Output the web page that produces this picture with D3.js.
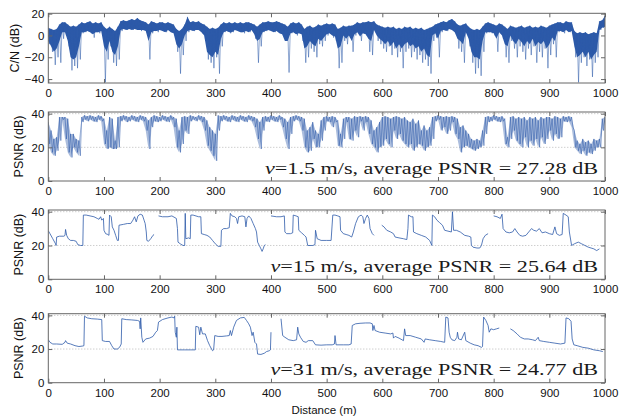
<!DOCTYPE html>
<html><head><meta charset="utf-8">
<script src="https://cdn.jsdelivr.net/npm/d3@7"></script>
<style>body{margin:0;background:#fff}</style>
</head><body>
<svg id="chart" width="621" height="416"></svg>
<script>
// ---------- data ----------
const xTicks = [0,100,200,300,400,500,600,700,800,900,1000];
const cnTicks = [20,0,-20,-40];
const psnrTicks = [0,20,40];
const gridValues = [20,40];
const sampleStep = 5; // metres between envelope samples

// C/N (dB): upper edge, lower edge of the dense band, and deepest dips, read every 5 m
const cnHigh = [7,6,5,6,10,12,12,10,8,9,8,10,12,11,12,13,11,12,11,12,
  8,6,8,6,4,8,13,14,13,14,15,14,16,14,13,12,10,13,12,11,
  12,12,11,12,11,10,6,4,6,10,17,12,13,12,13,11,10,8,6,7,
  6,7,10,12,11,12,11,12,11,12,11,12,12,11,10,8,10,12,12,13,
  12,12,13,12,11,10,8,11,12,11,12,10,6,8,9,7,8,10,9,10,
  11,10,11,10,6,7,9,8,9,9,10,12,11,12,12,13,12,13,10,9,
  8,7,8,7,8,6,7,6,8,7,8,6,7,6,7,5,6,7,8,10,
  11,12,13,12,14,15,13,10,9,10,11,8,6,5,6,5,8,11,12,11,
  10,9,11,10,8,6,9,8,7,8,9,7,8,9,7,8,7,9,8,7,
  9,10,11,12,12,11,13,12,12,4,2,3,2,3,1,2,3,2,13,14,18];
const cnBand = [-5,-10,-15,-12,-5,3,3,-5,-20,-22,-20,-10,3,3,4,3,1,3,3,4,
  -10,-15,-5,-15,-18,-10,5,6,5,6,5,6,5,5,5,4,-5,3,4,4,
  5,4,3,5,3,2,-8,-12,-8,0,4,5,4,5,5,3,0,-15,-18,-20,
  -15,-18,-3,3,4,3,3,5,4,3,3,4,3,5,1,-5,-3,3,4,5,
  4,3,4,2,1,-5,-5,2,3,1,2,1,-12,-10,-5,-8,-10,-3,-5,-2,
  1,2,0,-1,-12,-10,0,-3,0,-5,1,3,-1,2,1,-3,-5,5,0,-3,
  -5,-8,-5,-10,-6,-12,-8,-12,-8,-6,-10,-8,-12,-10,-15,-12,-18,-20,0,2,
  -3,4,5,4,6,5,3,-3,-5,-8,3,-3,-15,-20,-20,-22,-5,3,3,3,
  2,-3,3,0,-8,-10,0,-5,-8,-3,-6,-10,-5,-8,-3,-10,-6,-8,-5,-12,
  -8,-2,-5,4,4,3,5,3,4,-10,-20,-18,-15,-20,-15,-22,-18,-15,5,7,8];
const cnLow = [-8,-15,-27,-20,-25,-3,0,-10,-32,-28,-30,-22,2,3,4,2,-2,3,2,4,
  -43,-22,-10,-25,-28,-22,4,6,5,6,5,6,5,4,5,3,-22,2,4,3,
  5,4,3,5,3,2,-15,-35,-18,-5,3,5,4,5,6,2,-5,-22,-25,-30,
  -20,-35,-10,3,4,2,3,5,4,3,2,4,3,5,-3,-25,-10,3,4,5,
  4,3,4,2,0,-5,-34,2,3,0,2,-5,-25,-20,-12,-15,-20,-8,-10,-5,
  0,2,-2,-5,-30,-25,-5,-8,-2,-15,0,3,-5,2,0,-15,-18,5,-5,-8,
  -12,-15,-10,-18,-12,-20,-15,-30,-15,-12,-20,-15,-22,-18,-25,-22,-28,-35,-5,-2,
  -20,3,5,4,6,5,3,-12,-15,-25,2,-10,-25,-35,-30,-37,-15,2,3,2,
  0,-15,2,-3,-20,-25,-5,-12,-20,-10,-15,-22,-12,-18,-10,-25,-15,-20,-12,-30,
  -18,-8,-20,3,4,2,5,3,4,-20,-43,-25,-20,-28,-22,-38,-25,-20,5,7,8];

// PSNR (dB) at v = 1.5 m/s: upper / lower envelope every 5 m
const psnrSlowHigh = [35,30,25,26,38,38,38,37,28,28,25,24,38,39,38.5,39,38.5,38,39,38.5,
  37,30,38,37,24,38,38.5,39,38.5,38,39,38.5,38,39,38.5,38,36,38,39,38.5,
  38,39,38.5,38,39,38,37,30,38,38.5,38,39,38.5,38,39,38.5,38,36,32,30,
  28,39,38.5,39,38.5,38,39,38.5,38,39,38.5,38,39,38.5,38,37,35,38,38.5,38,
  39,38.5,38,39,38,37,35,38,38.5,39,38.5,38,37,30,32,35,30,28,36,38,
  38.5,38,38.5,38,36,28,37,38,38,37,38.5,38,38.5,38,38.5,38,36,30,32,35,
  38,38.5,38,37,38,38.5,38,37,38,36,35,37,34,36,30,33,30,32,38,38.5,
  39,38.5,38,38.5,38,38.5,38,37,32,33,30,28,25,24,25,24,30,38,38.5,38,
  39,38.5,38,38.5,37,26,38,38.5,37,38,37,38,36,38,37,38,36,38,37,38,
  38,37,38.5,38,37,38.5,38,38.5,38,30,24,22,25,23,24,22,25,24,25,37,38];
const psnrSlowLow = [22,17,15,18,24,36.5,25,17,14,20,17,15,35,36.5,35.5,36.5,35.5,35,36.5,35.5,
  22,19,20,19,19,20,35.5,36.5,35,35.5,36.5,35.5,35,36.5,35.5,30,19,32,35.5,35,
  35.5,36.5,35.5,35,36.5,32,20,17,22,30,28,35.5,36.5,35.5,36.5,35,30,21,18,15,
  12,30,35.5,36.5,35.5,35,36.5,35.5,35,36.5,35.5,35,36.5,35.5,32,25,19,30,35.5,35,
  36.5,35.5,35,36.5,32,25,19,28,35.5,36.5,35.5,30,20,17,18,25,20,20,24,30,
  35.5,35,32,35,21,20,25,35,25,24,30,26,35.5,30,35,28,22,20,17,20,
  21,25,22,20,30,25,28,24,22,20,22,18,20,22,21,18,20,21,25,35.5,
  36.5,30,32,28,30,35,28,25,17,20,21,20,19,18,19,20,21,28,35,35.5,
  36.5,35.5,35,35.5,22,20,25,30,24,22,20,26,20,24,21,25,20,26,22,25,
  30,24,28,25,26,35.5,35,35.5,32,20,18,16,18,15,17,16,18,20,20,30,35];

// PSNR (dB) at v = 15 m/s (null = gap)
const dist15 = [0,3,8,13,14,15,20,28,30,31,33,36,40,45,50,53,58,62,63,68,75,82,88,91,94,96,99,100,103,107,109,110,113,115,118,121,124,126,127,135,142,148,152,155,158,161,165,169,172,174,176,177,180,184,188,190,194,
  198,205,215,222,230,232,233,237,242,245,246,247,252,255,256,260,270,274,275,280,285,290,295,300,305,310,311,315,320,325,327,330,335,338,340,342,348,353,355,357,360,364,368,372,374,376,379,382,384,386,388,390,395,
  400,410,418,424,425,428,435,439,440,445,449,450,455,460,463,466,475,479,480,483,490,500,508,511,515,520,524,525,530,535,540,545,548,552,557,562,565,567,570,573,576,578,582,585,592,
  599,603,608,615,620,623,630,638,644,646,647,652,655,656,662,670,678,685,689,690,694,698,703,708,712,718,724,726,728,733,740,748,755,759,760,763,770,775,778,781,785,790,795,
  800,806,812,815,817,822,828,834,838,842,847,852,858,863,868,872,877,882,887,893,900,906,910,913,918,923,925,930,934,936,940,945,952,958,964,970,975,980,985,990];
const psnr15 = [28.7,27,24,21,20,25,25.5,25.5,26,29.5,26,24,23,23,22.5,20.5,20,20,38,38,37.5,37,36,35.5,37,35,36,29,27,26.5,26,38,37,31,29,26,23,23,32,32.5,33,33,35,37,34,37.5,38.5,38,35,33,28,23,22.5,24,26,26.5,null,
  37.5,37,37,37.5,36,30,22,21,20,20,39,24,24.5,24,38,38,37,37,27,26.5,26,25,23,21,19.5,19.5,29,30,30,30.5,39,37.5,37,36,33,37,37.5,37,31,36,37.5,36,33,30,28,22,20,18,16.5,18,20,20.5,null,
  37.5,37,37,37.5,28,27,27,27.5,38,37.5,37,29,27.5,26,25,20,20,20.5,29,24,23,23,23,38,38,37.5,37,29,27,26.5,26,25,28,33,37,38,37,33,36,38,36,30,27,26,null,
  32,31,29,28,27,25,24.5,24,23.5,30,38,37,37,28,27,26,25,23,20,38,37,35,33.5,32,29,28.5,28,40,29,29,28,26,25.5,25,20,19,18.5,18.5,20,24,26,27,null,
  37.5,37,36,38.5,30,28,27.5,28,30,28,26,25.5,26,28,30,29,28.5,30,27.5,28,27,26.5,31,27,26,26.5,39,38,37,28,20,21,22,21,20,19,18.5,18,17,18];

// PSNR (dB) at v = 31 m/s (null = gap)
const dist31 = [0,3,8,15,25,30,31,34,40,48,55,62,64,65,70,78,88,96,97,103,110,114,118,124,128,131,132,140,150,160,164,165,166,168,170,175,182,188,193,196,198,205,215,222,226,227,228,230,231,232,245,255,264,265,270,272,274,277,282,286,290,295,297,299,305,312,320,325,327,329,333,338,345,352,356,360,363,366,368,371,374,376,382,388,392,397,399,400,408,
  418,421,425,432,440,446,448,450,453,458,463,467,475,480,490,500,510,514,515,517,530,540,544,546,552,560,570,578,582,583,585,587,595,605,615,619,620,623,630,638,640,642,650,660,670,675,677,685,695,705,712,714,718,720,722,725,730,734,735,737,742,748,750,758,765,772,778,780,782,786,790,792,795,800,805,810,820,
  830,835,842,848,855,862,870,875,880,882,890,900,910,920,928,930,935,939,941,944,950,960,970,980,990,996];
const psnr31 = [25.5,24,23,23,22.8,24,25,23.5,23,22,21.5,21.8,22,39.5,38.5,38,37.8,37.5,25,24.5,24.5,22,20,20,21,23,38,37.5,37.3,37,36.5,32,38.5,27,24,26,26.5,27.5,30,31,36,37.5,38.5,39,38.5,39.5,30,27,33,19.5,19.5,19.5,19.5,33.5,33,28.5,33,29,29,25,22,19,19.5,28,27.5,27.5,27.8,28,31,28,33,37,38.5,38.8,37,35,33,28,30,24,23,17,16.8,17.5,18.5,19,19.5,30,null,
  38,28,27,25.5,25,25.5,33,29,27,24.5,24,25,25,22.5,22.3,22.5,22.5,23,28,22.5,22.5,22.5,23,34,35,35.3,35.5,35.5,35,31,34,31,30,29.5,29,29.5,26.5,27.5,26.5,25,32,28,28,27,26,24,26,25.5,25,24.5,24,39,38.5,30,27,25.5,25,27,30,26,25.5,30,25,23.5,22.5,22,21,21.5,39,37,34,30,32,31.5,32,32.5,null,
  32,31,29,27,26,26,25.5,25,27,25,24.5,24,23.5,23,23.5,38.5,38,36.5,26,22.5,22,21,20.5,19.5,19,18.5];

const notes = [
  {v: "1.5", text: " m/s, average PSNR = 27.28 dB"},
  {v: "15",  text: " m/s, average PSNR = 25.64 dB"},
  {v: "31",  text: " m/s, average PSNR = 24.77 dB"}
];

// ---------- layout ----------
const svg = d3.select("#chart");
const left = 48.3, right = 605;
const panels = [
  {top: 13.3, bottom: 83,    domain: [-43.6, 20.3], ticks: cnTicks,   title: "C/N (dB)",  titleX: 18.5, grid: false},
  {top: 112,  bottom: 181,   domain: [0, 41],      ticks: psnrTicks, title: "PSNR (dB)", titleX: 23,   grid: true},
  {top: 210,  bottom: 279.3, domain: [0, 41],      ticks: psnrTicks, title: "PSNR (dB)", titleX: 23,   grid: true},
  {top: 313.7,bottom: 382.7, domain: [0, 41],      ticks: psnrTicks, title: "PSNR (dB)", titleX: 23,   grid: true}
];
const lineColor = "#2d5aa9";
const axisColor = "#666";
const sans = "'Liberation Sans', Arial, Helvetica, sans-serif";
const serif = "'Liberation Serif', 'Times New Roman', serif";

const x = d3.scaleLinear().domain([0,1000]).range([left, right]);

function zigzag(hi, lo) {
  const pts = [];
  hi.forEach((h, i) => {
    pts.push([i*sampleStep, h]);
    pts.push([Math.min(1000, i*sampleStep + sampleStep/2), lo[i]]);
  });
  return pts;
}
function envelope(hi, lo) { return hi.map((h, i) => [i*sampleStep, h, lo[i]]); }
function zipGaps(xs, ys) { return xs.map((d, i) => [d, ys[i]]); }

const series = [
  {pts: zigzag(cnHigh, cnLow), band: envelope(cnHigh, cnBand), bandOpacity: 1, w: 0.7, lineOpacity: 0.75},
  {pts: zigzag(psnrSlowHigh, psnrSlowLow), band: envelope(psnrSlowHigh, psnrSlowLow), bandOpacity: 0.4, w: 0.6, lineOpacity: 0.9},
  {pts: zipGaps(dist15, psnr15), w: 0.8, lineOpacity: 1},
  {pts: zipGaps(dist31, psnr31), w: 0.8, lineOpacity: 1}
];

panels.forEach((p, i) => {
  const y = d3.scaleLinear().domain(p.domain).range([p.bottom, p.top]);
  const g = svg.append("g");
  const clipId = "clip" + i;
  svg.append("clipPath").attr("id", clipId).append("rect")
    .attr("x", left).attr("y", p.top).attr("width", right-left).attr("height", p.bottom-p.top);

  // grid
  if (p.grid) {
    g.selectAll(".grid").data(gridValues).join("line")
      .attr("x1", left).attr("x2", right)
      .attr("y1", d => y(d)).attr("y2", d => y(d))
      .attr("stroke", "#a8a8a8").attr("stroke-width", 0.8).attr("stroke-dasharray", "1,2");
  }

  const s = series[i];
  if (s.band) {
    const area = d3.area().x(d => x(d[0])).y0(d => y(d[2])).y1(d => y(d[1]));
    g.append("path").datum(s.band)
      .attr("clip-path", `url(#${clipId})`)
      .attr("fill", lineColor).attr("fill-opacity", s.bandOpacity)
      .attr("d", area);
  }
  // data line
  const line = d3.line().defined(d => d[1] != null).x(d => x(d[0])).y(d => y(d[1]));
  g.append("path").datum(s.pts)
    .attr("clip-path", `url(#${clipId})`)
    .attr("fill", "none").attr("stroke", lineColor).attr("stroke-opacity", s.lineOpacity)
    .attr("stroke-width", s.w).attr("stroke-linejoin", "round")
    .attr("d", line);

  // axes
  const styleAxis = (sel, labels) => {
    sel.select(".domain").remove();
    sel.selectAll(".tick line").attr("stroke", axisColor);
    sel.selectAll(".tick text").attr("fill", "#111")
      .style("font-family", sans).style("font-size", "11.5px");
    if (!labels) sel.selectAll(".tick text").remove();
  };
  g.append("g").attr("transform", `translate(0,${p.bottom})`)
    .call(d3.axisBottom(x).tickValues(xTicks).tickFormat(d3.format("d")).tickSizeInner(-4).tickSizeOuter(0).tickPadding(6))
    .call(sel => styleAxis(sel, true));
  g.append("g").attr("transform", `translate(0,${p.top})`)
    .call(d3.axisTop(x).tickValues(xTicks).tickSizeInner(-4).tickSizeOuter(0))
    .call(sel => styleAxis(sel, false));
  g.append("g").attr("transform", `translate(${left},0)`)
    .call(d3.axisLeft(y).tickValues(p.ticks).tickFormat(d3.format("d")).tickSizeInner(-4).tickSizeOuter(0).tickPadding(4))
    .call(sel => styleAxis(sel, true));
  g.append("g").attr("transform", `translate(${right},0)`)
    .call(d3.axisRight(y).tickValues(p.ticks).tickSizeInner(-4).tickSizeOuter(0))
    .call(sel => styleAxis(sel, false));

  // box
  g.append("rect").attr("x", left).attr("y", p.top)
    .attr("width", right-left).attr("height", p.bottom-p.top)
    .attr("fill", "none").attr("stroke", axisColor).attr("stroke-width", 1);

  // y title
  svg.append("text")
    .attr("transform", `translate(${p.titleX},${(p.top+p.bottom)/2}) rotate(-90)`)
    .attr("text-anchor", "middle")
    .style("font-family", sans).style("font-size", "12.5px").attr("fill", "#111")
    .text(p.title);

  // annotation
  if (i > 0) {
    const n = notes[i-1];
    const t = svg.append("text")
      .attr("class", "note")
      .attr("x", 598).attr("y", p.bottom - 7.3)
      .attr("text-anchor", "end")
      .style("font-family", serif).style("font-size", "16px").attr("fill", "#1a1a1a");
    t.append("tspan").style("font-style", "italic").text("v");
    t.append("tspan").text("=" + n.v + n.text);
  }
});

// widen serif notes to match reference text width
const notesSel = svg.selectAll("text.note");
const firstW = notesSel.node().getComputedTextLength();
const factor = 333 / firstW;
notesSel.each(function() {
  const w = this.getComputedTextLength();
  d3.select(this).attr("textLength", w * factor).attr("lengthAdjust", "spacingAndGlyphs");
});

// x title
svg.append("text").attr("x", 324).attr("y", 414)
  .attr("text-anchor", "middle")
  .style("font-family", sans).style("font-size", "11.5px").attr("fill", "#111")
  .text("Distance (m)");
</script>
</body></html>
